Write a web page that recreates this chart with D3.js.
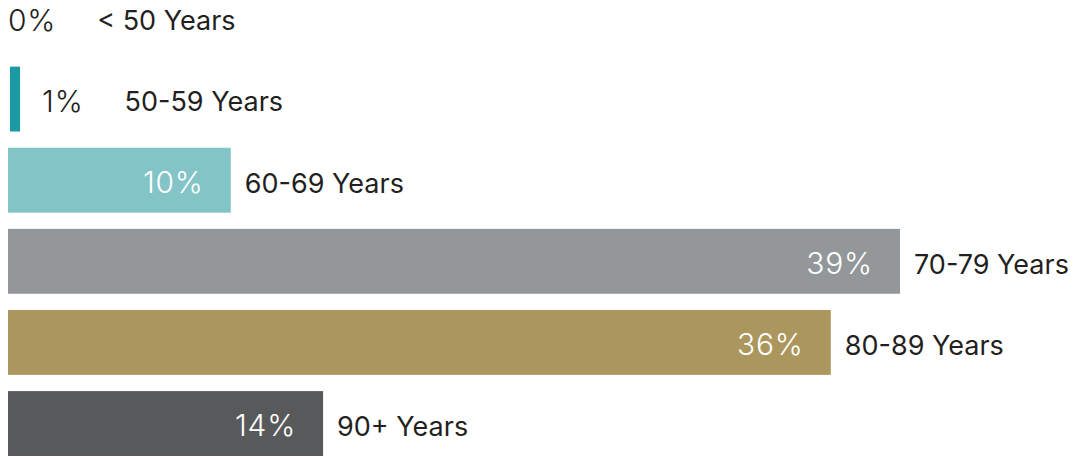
<!DOCTYPE html>
<html>
<head>
<meta charset="utf-8">
<script src="https://cdn.jsdelivr.net/npm/d3@7/dist/d3.min.js"></script>
<style>
  html, body { margin: 0; padding: 0; background: #ffffff; }
  svg { display: block; }
  text { font-family: Inter, "Liberation Sans", sans-serif; }
</style>
</head>
<body>
<svg id="chart" width="1080" height="457"></svg>
<script>
// Age distribution, share of total (%)
const categories = ["< 50 Years", "50-59 Years", "60-69 Years", "70-79 Years", "80-89 Years", "90+ Years"];
const values = [0, 1, 10, 39, 36, 14];
const colors = ["#1b9aa6", "#1b9aa6", "#83c4c7", "#939799", "#ab975e", "#58595b"];

const width = 1080, height = 457;
const left = 8;
const catSize = 27;
const valSize = 30;

const svg = d3.select("#chart");

const x = d3.scaleLinear().domain([0, 39]).range([0, 900]);
const y = d3.scaleBand()
  .domain(categories)
  .range([-14.5, 456])
  .paddingInner(0.2)
  .paddingOuter(0);

const rows = svg.selectAll("g.row")
  .data(categories.map((c, i) => ({ cat: c, v: values[i], color: colors[i] })))
  .join("g")
  .attr("class", "row")
  .attr("transform", d => `translate(0,${y(d.cat)})`);

const barEnd = d => Math.max(left, x(d.v));
const inside = d => d.v >= 5;
const bh = y.bandwidth();
const barStart = d => inside(d) ? left : left + 2;

rows.filter(d => d.v > 0).append("rect")
  .attr("x", barStart)
  .attr("y", 0)
  .attr("width", d => barEnd(d) - (inside(d) ? 0 : 3) - barStart(d))
  .attr("height", bh)
  .attr("fill", d => d.color);

rows.each(function(d) {
  const g = d3.select(this);
  const label = d.v + "%";
  const cy = bh / 2;
  if (inside(d)) {
    g.append("text")
      .attr("x", barEnd(d) - 27)
      .attr("y", cy)
      .attr("dy", "0.42em")
      .attr("text-anchor", "end")
      .attr("fill", "#ffffff")
      .attr("font-size", valSize)
      .attr("font-weight", 300)
      .attr("letter-spacing", 0.8)
      .text(label);
    g.append("text")
      .attr("x", barEnd(d) + 14)
      .attr("y", cy)
      .attr("dy", "0.46em")
      .attr("fill", "#231f20")
      .attr("font-size", catSize)
      .attr("font-weight", 400)
      .text(d.cat);
  } else {
    const vx = d.v > 0 ? x(d.v) + 19 : left;
    const vt = g.append("text")
      .attr("x", vx)
      .attr("y", cy)
      .attr("dy", "0.42em")
      .attr("fill", "#231f20")
      .attr("font-size", valSize)
      .attr("font-weight", 300)
      .attr("letter-spacing", 0.8)
      .text(label);
    const w = vt.node().getComputedTextLength();
    g.append("text")
      .attr("x", vx + w + 41)
      .attr("y", cy)
      .attr("dy", "0.46em")
      .attr("fill", "#231f20")
      .attr("font-size", catSize)
      .attr("font-weight", 400)
      .text(d.cat);
  }
});
</script>
</body>
</html>
